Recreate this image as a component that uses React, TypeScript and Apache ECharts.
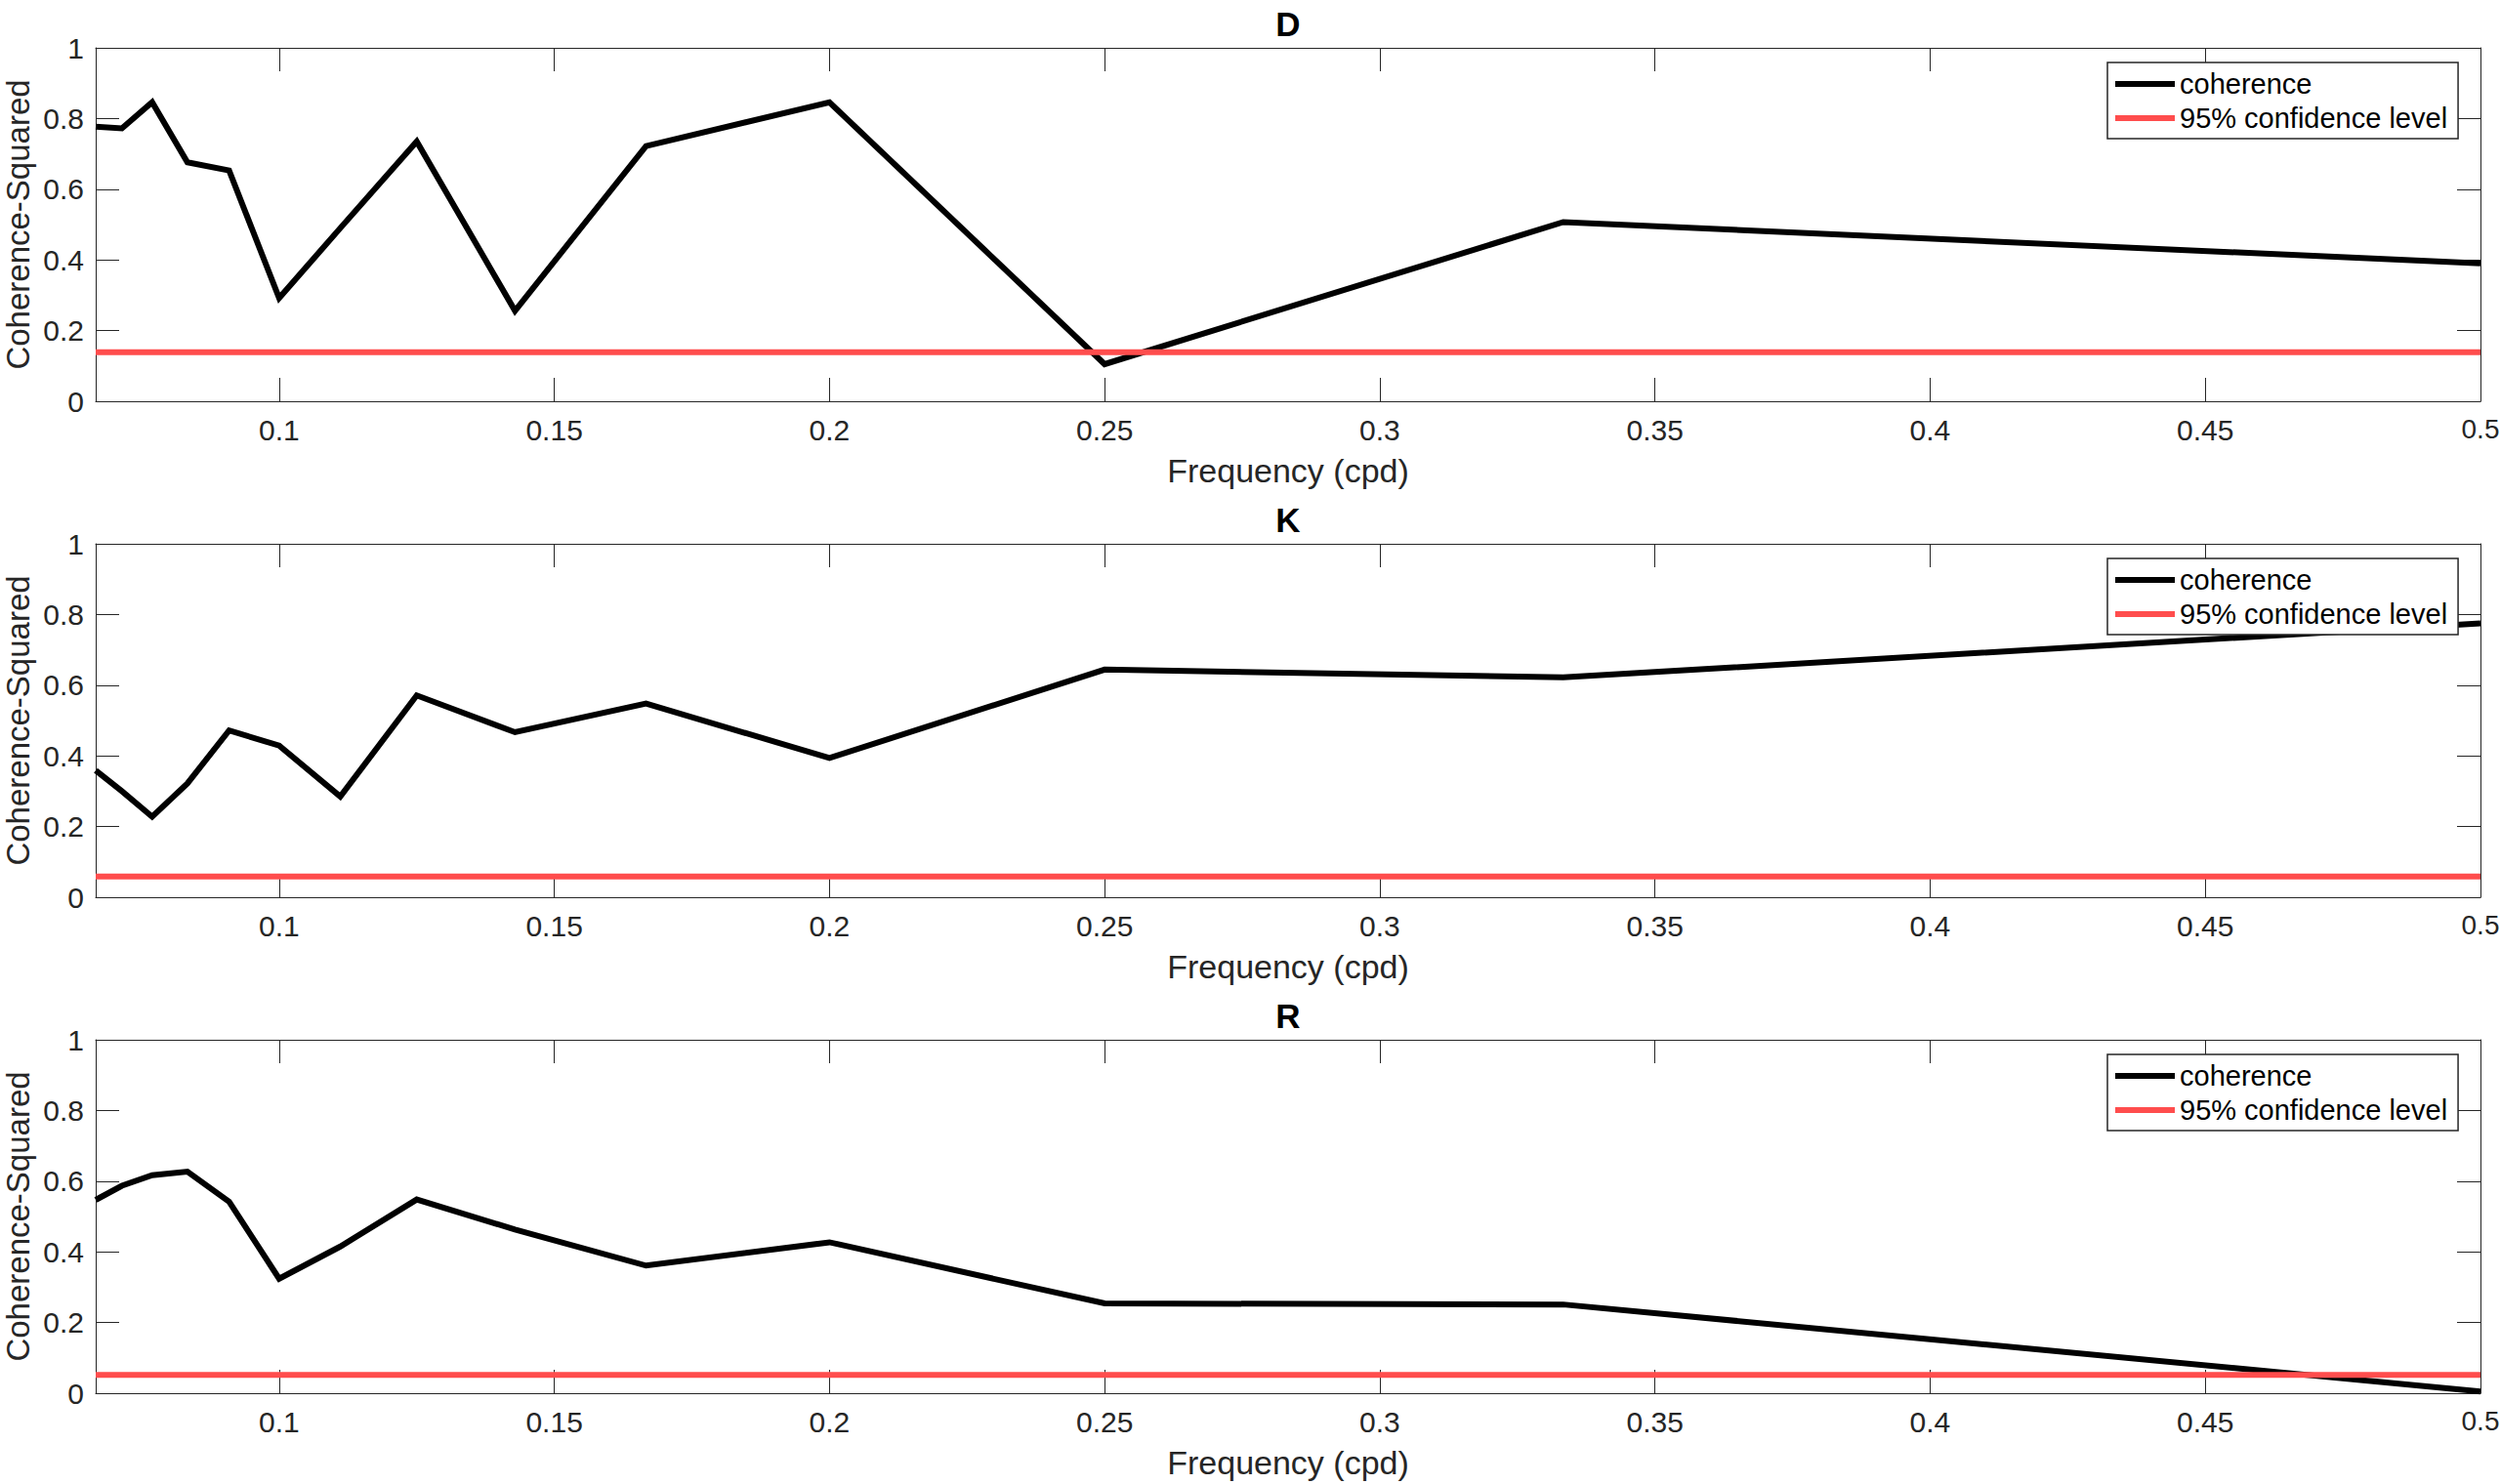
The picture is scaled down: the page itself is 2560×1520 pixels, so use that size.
import React, { useEffect, useRef } from "react";
import * as echarts from "echarts";

// Frequencies (cycles per day): 1/15 ... 1/2
const FREQ = [1 / 15, 1 / 14, 1 / 13, 1 / 12, 1 / 11, 1 / 10, 1 / 9, 1 / 8, 1 / 7, 1 / 6, 1 / 5, 1 / 4, 1 / 3, 1 / 2];

const D_COH = [0.777, 0.772, 0.846, 0.676, 0.653, 0.292, 0.49, 0.735, 0.256, 0.722, 0.846, 0.105, 0.507, 0.39];
const K_COH = [0.359, 0.3, 0.228, 0.322, 0.472, 0.429, 0.285, 0.571, 0.467, 0.548, 0.394, 0.644, 0.622, 0.775];
const R_COH = [0.547, 0.587, 0.617, 0.627, 0.542, 0.324, 0.415, 0.548, 0.463, 0.361, 0.427, 0.254, 0.251, 0.005];

const CONF_LEVELS = [0.139, 0.059, 0.052];
const TITLES = ["D", "K", "R"];
const COHERENCE = [D_COH, K_COH, R_COH];

const X_TICKS = [0.1, 0.15, 0.2, 0.25, 0.3, 0.35, 0.4, 0.45, 0.5];
const X_MIN = 1 / 15;
const X_MAX = 0.5;

const SERIES_NAMES = ["coherence", "95% confidence level"];

const FONT = "'Liberation Sans', Arial, Helvetica, sans-serif";
const AXIS_COLOR = "#262626";
const RED = "#ff4d4d";

const GRID_LEFT = 98;
const GRID_RIGHT = 20;
const GRID_TOPS = [49, 557, 1065];
const GRID_HEIGHT = 362;
const CANVAS_W = 2560;

function buildOption() {
  const plotCenter = GRID_LEFT + (CANVAS_W - GRID_LEFT - GRID_RIGHT) / 2;
  const grid: any[] = [];
  const xAxis: any[] = [];
  const yAxis: any[] = [];
  const series: any[] = [];
  const legend: any[] = [];
  const graphic: any[] = [];

  const axisLine = { show: true, onZero: false, lineStyle: { color: AXIS_COLOR, width: 1 } };
  const tickStyle = { color: AXIS_COLOR, width: 1 };

  TITLES.forEach((title, i) => {
    grid.push({
      left: GRID_LEFT,
      right: GRID_RIGHT,
      top: GRID_TOPS[i],
      height: GRID_HEIGHT,
      containLabel: false,
      outerBoundsMode: "none",
    });

    xAxis.push({
      type: "value",
      gridIndex: i,
      position: "bottom",
      min: X_MIN,
      max: X_MAX,
      axisLine,
      axisTick: { show: true, inside: true, length: 24, customValues: X_TICKS, lineStyle: tickStyle },
      axisLabel: {
        show: true,
        customValues: X_TICKS,
        formatter: (v: number) => {
          const s = String(+v.toFixed(2));
          return Math.abs(v - X_MAX) < 1e-9 ? `{last|${s}}` : s;
        },
        rich: { last: { fontSize: 28, color: AXIS_COLOR, fontFamily: FONT } },
        fontSize: 30,
        color: AXIS_COLOR,
        fontFamily: FONT,
        margin: 14,
      },
      splitLine: { show: false },
      name: "Frequency (cpd)",
      nameLocation: "middle",
      nameGap: 54,
      nameMoveOverlap: false,
      nameTextStyle: { fontSize: 34, color: AXIS_COLOR, fontFamily: FONT },
    });
    xAxis.push({
      type: "value",
      gridIndex: i,
      position: "top",
      min: X_MIN,
      max: X_MAX,
      axisLine,
      axisTick: { show: true, inside: true, length: 24, customValues: X_TICKS, lineStyle: tickStyle },
      axisLabel: { show: false },
      splitLine: { show: false },
    });

    yAxis.push({
      type: "value",
      gridIndex: i,
      position: "left",
      min: 0,
      max: 1,
      interval: 0.2,
      axisLine,
      axisTick: { show: true, inside: true, length: 24, lineStyle: tickStyle },
      axisLabel: { fontSize: 30, color: AXIS_COLOR, fontFamily: FONT, margin: 12 },
      splitLine: { show: false },
      name: "Coherence-Squared",
      nameLocation: "middle",
      nameGap: 63,
      nameMoveOverlap: false,
      nameTextStyle: { fontSize: 33, color: AXIS_COLOR, fontFamily: FONT },
    });
    yAxis.push({
      type: "value",
      gridIndex: i,
      position: "right",
      min: 0,
      max: 1,
      interval: 0.2,
      axisLine,
      axisTick: { show: true, inside: true, length: 24, lineStyle: tickStyle },
      axisLabel: { show: false },
      splitLine: { show: false },
    });

    series.push({
      name: SERIES_NAMES[0],
      type: "line",
      xAxisIndex: 2 * i,
      yAxisIndex: 2 * i,
      data: FREQ.map((f, k) => [f, COHERENCE[i][k]]),
      showSymbol: false,
      symbol: "none",
      clip: true,
      color: "#000",
      lineStyle: { color: "#000", width: 6, join: "miter", cap: "butt" },
      z: 2,
    });
    series.push({
      name: SERIES_NAMES[1],
      type: "line",
      xAxisIndex: 2 * i,
      yAxisIndex: 2 * i,
      data: [
        [X_MIN, CONF_LEVELS[i]],
        [X_MAX, CONF_LEVELS[i]],
      ],
      showSymbol: false,
      symbol: "none",
      clip: true,
      color: RED,
      lineStyle: { color: RED, width: 6 },
      z: 3,
    });

    legend.push({
      data: SERIES_NAMES,
      orient: "vertical",
      left: 2158,
      top: GRID_TOPS[i] + 15,
      icon: "rect",
      itemWidth: 61,
      itemHeight: 6,
      itemGap: 5,
      padding: [7, 11, 6, 8],
      borderColor: AXIS_COLOR,
      borderWidth: 1.5,
      backgroundColor: "#fff",
      selectedMode: false,
      textStyle: { fontSize: 29, color: "#000", fontFamily: FONT, lineHeight: 30 },
    });

    graphic.push({
      type: "text",
      x: plotCenter,
      y: GRID_TOPS[i] - 25,
      style: {
        text: title,
        font: `bold 35px ${FONT}`,
        fill: "#000",
        textAlign: "center",
        textVerticalAlign: "middle",
      },
    });
  });

  return {
    animation: false,
    backgroundColor: "#fff",
    grid,
    xAxis,
    yAxis,
    series,
    legend,
    graphic,
  };
}

export default function App() {
  const ref = useRef<HTMLDivElement>(null);
  useEffect(() => {
    if (!ref.current) return;
    const chart = echarts.init(ref.current, null, { renderer: "svg" });
    chart.setOption(buildOption() as any);
    return () => {
      chart.dispose();
    };
  }, []);
  return (
    <div
      ref={ref}
      style={{ position: "absolute", left: 0, top: 0, width: 2560, height: 1520, background: "#fff" }}
    />
  );
}
